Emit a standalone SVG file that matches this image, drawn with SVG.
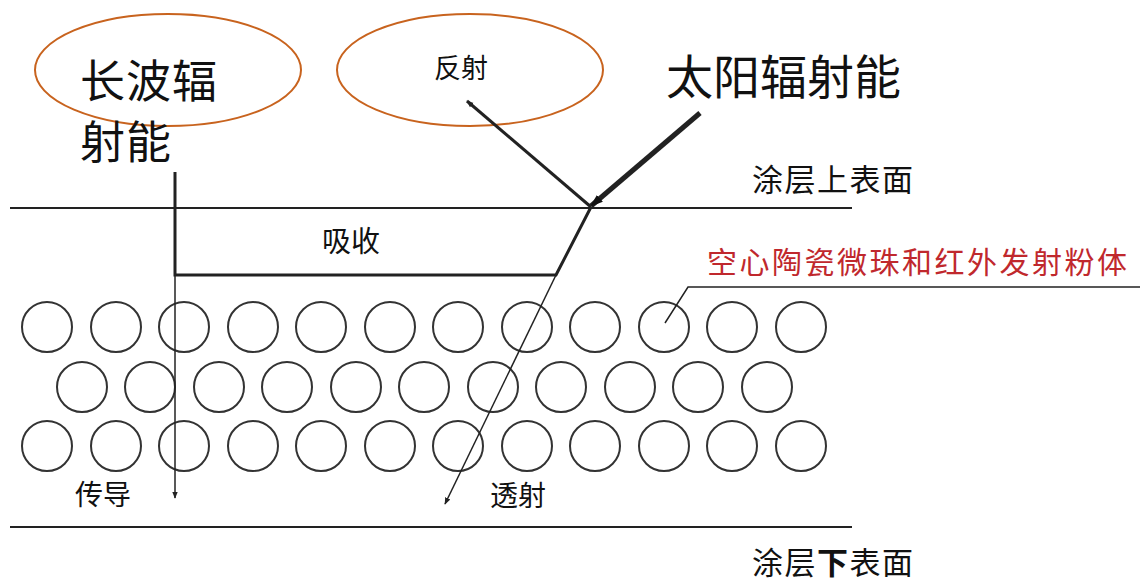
<svg xmlns="http://www.w3.org/2000/svg" width="1140" height="582" viewBox="0 0 1140 582">
<defs>
<style>
.t{font-family:"Noto Sans CJK SC","Noto Sans",sans-serif;fill:#111}
.ell{fill:none;stroke:#c8631e;stroke-width:2}
.bead{fill:none;stroke:#333;stroke-width:2}
.ln{stroke:#222;fill:none}
</style>
<marker id="ahs" viewBox="0 0 10 10" refX="9" refY="5" markerWidth="7" markerHeight="7" orient="auto" markerUnits="userSpaceOnUse">
<path d="M0,1 L10,5 L0,9 z" fill="#222"/>
</marker>
<marker id="ahb" viewBox="0 0 10 10" refX="9" refY="5" markerWidth="13" markerHeight="13" orient="auto" markerUnits="userSpaceOnUse">
<path d="M0,1.5 L10,5 L0,8.5 z" fill="#111"/>
</marker>
</defs>
<rect width="1140" height="582" fill="#fff"/>

<g id="ellipse-longwave"><ellipse class="ell" cx="168" cy="70" rx="133" ry="56"/></g>
<g id="ellipse-reflect"><ellipse class="ell" cx="470" cy="70" rx="133" ry="56"/></g>

<g id="label-longwave"><text class="t" x="80" y="98" font-size="45" letter-spacing="1">长波辐</text><text class="t" x="80" y="159" font-size="45" letter-spacing="1">射能</text></g>
<g id="label-reflect"><text class="t" x="434" y="78" font-size="27">反射</text></g>
<g id="label-solar"><text class="t" x="666" y="94" font-size="47">太阳辐射能</text></g>
<g id="label-top"><text class="t" x="752" y="191" font-size="31" letter-spacing="1.5">涂层上表面</text></g>
<g id="label-bottom"><text class="t" x="752" y="574" font-size="31" letter-spacing="1.5">涂层<tspan font-weight="bold">下</tspan>表面</text></g>
<g id="label-absorb"><text class="t" x="322" y="252" font-size="29">吸收</text></g>
<g id="label-beads"><text class="t" x="707" y="273" font-size="30" letter-spacing="2.5" style="fill:#c0282d">空心陶瓷微珠和红外发射粉体</text></g>
<g id="label-conduct"><text class="t" x="75" y="505" font-size="28">传导</text></g>
<g id="label-transmit"><text class="t" x="490" y="506" font-size="28">透射</text></g>

<g id="surfaces">
<line class="ln" x1="10" y1="208" x2="852" y2="208" stroke-width="2"/>
<line class="ln" x1="10" y1="527" x2="852" y2="527" stroke-width="2"/>
</g>

<g id="beads">
<g id="row1">
<circle class="bead" cx="47" cy="327" r="25"/><circle class="bead" cx="116" cy="327" r="25"/><circle class="bead" cx="184" cy="327" r="25"/><circle class="bead" cx="253" cy="327" r="25"/><circle class="bead" cx="321" cy="327" r="25"/><circle class="bead" cx="390" cy="327" r="25"/><circle class="bead" cx="458" cy="327" r="25"/><circle class="bead" cx="527" cy="327" r="25"/><circle class="bead" cx="595" cy="327" r="25"/><circle class="bead" cx="664" cy="327" r="25"/><circle class="bead" cx="732" cy="327" r="25"/><circle class="bead" cx="801" cy="327" r="25"/>
</g>
<g id="row2">
<circle class="bead" cx="82" cy="387" r="25"/><circle class="bead" cx="150" cy="387" r="25"/><circle class="bead" cx="219" cy="387" r="25"/><circle class="bead" cx="287" cy="387" r="25"/><circle class="bead" cx="356" cy="387" r="25"/><circle class="bead" cx="424" cy="387" r="25"/><circle class="bead" cx="493" cy="387" r="25"/><circle class="bead" cx="561" cy="387" r="25"/><circle class="bead" cx="630" cy="387" r="25"/><circle class="bead" cx="698" cy="387" r="25"/><circle class="bead" cx="767" cy="387" r="25"/>
</g>
<g id="row3">
<circle class="bead" cx="47" cy="446" r="25"/><circle class="bead" cx="116" cy="446" r="25"/><circle class="bead" cx="184" cy="446" r="25"/><circle class="bead" cx="253" cy="446" r="25"/><circle class="bead" cx="321" cy="446" r="25"/><circle class="bead" cx="390" cy="446" r="25"/><circle class="bead" cx="458" cy="446" r="25"/><circle class="bead" cx="527" cy="446" r="25"/><circle class="bead" cx="595" cy="446" r="25"/><circle class="bead" cx="664" cy="446" r="25"/><circle class="bead" cx="732" cy="446" r="25"/><circle class="bead" cx="801" cy="446" r="25"/>
</g>
</g>

<g id="connectors">
<line class="ln" x1="700" y1="113" x2="591" y2="206" stroke-width="5" marker-end="url(#ahb)"/>
<line class="ln" x1="591" y1="207" x2="467" y2="101" stroke-width="3" marker-end="url(#ahs)"/>
<polyline class="ln" points="175,172 175,275 556,275 591,207" stroke-width="3"/>
<line class="ln" x1="175" y1="275" x2="175" y2="498" stroke-width="1.5" marker-end="url(#ahs)"/>
<line class="ln" x1="556" y1="275" x2="445" y2="504" stroke-width="1.5" marker-end="url(#ahs)"/>
<polyline class="ln" points="1140,287 688,287 665,323" stroke-width="1.5"/>
</g>
</svg>
